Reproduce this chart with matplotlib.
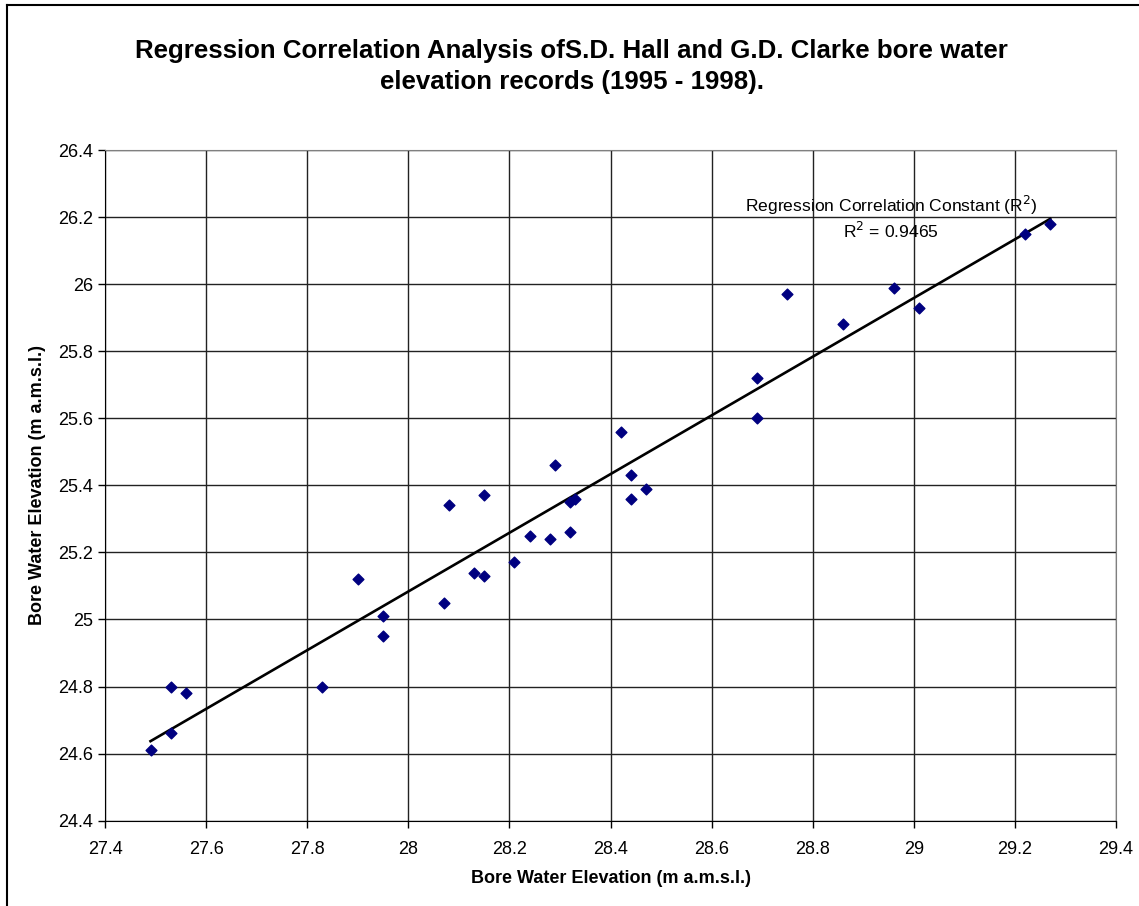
import matplotlib.pyplot as plt
import numpy as np
from matplotlib.lines import Line2D

plt.rcParams['font.family'] = ['Liberation Sans', 'DejaVu Sans']

# S.D. Hall bore (x) vs G.D. Clarke bore (y), m a.m.s.l.
hall = [27.49, 27.53, 27.56, 27.53, 27.83,
        27.90, 27.95, 27.95, 28.07, 28.08, 28.15, 28.13, 28.15, 28.21, 28.24,
        28.28, 28.29, 28.32, 28.33, 28.32, 28.42, 28.44, 28.44, 28.47,
        28.75, 28.96, 29.01, 28.86, 28.69, 28.69, 29.22, 29.27]
clarke = [24.61, 24.80, 24.78, 24.66, 24.80,
          25.12, 25.01, 24.95, 25.05, 25.34, 25.37, 25.14, 25.13, 25.17, 25.25,
          25.24, 25.46, 25.35, 25.36, 25.26, 25.56, 25.43, 25.36, 25.39,
          25.97, 25.99, 25.93, 25.88, 25.72, 25.60, 26.15, 26.18]

x_ticks = np.arange(27.4, 29.41, 0.2)
y_ticks = np.arange(24.4, 26.41, 0.2)

fig = plt.figure(figsize=(11.39, 9.06), dpi=100)
ax = fig.add_axes([0.0922, 0.0942, 0.8876, 0.7402])

ax.scatter(hall, clarke, marker='D', s=30, color='#000080', zorder=3)

# linear trend line
slope, intercept = np.polyfit(hall, clarke, 1)
xs = np.array([min(hall), max(hall)])
ax.plot(xs, slope * xs + intercept, color='black', lw=1.9, zorder=2)

ax.set_xlim(27.4, 29.4)
ax.set_ylim(24.4, 26.4)
ax.set_xticks(x_ticks)
ax.set_yticks(y_ticks)
ax.set_xticklabels([f'{v:g}' for v in np.round(x_ticks, 1)])
ax.set_yticklabels([f'{v:g}' for v in np.round(y_ticks, 1)])
ax.tick_params(direction='out', length=5, width=1, labelsize=13, color='black')
ax.tick_params(axis='x', pad=10)
ax.grid(True, color='#222222', lw=1)
ax.set_axisbelow(True)
for side in ['top', 'right']:
    ax.spines[side].set_color('#808080')
for side in ['left', 'bottom']:
    ax.spines[side].set_color('black')

ax.set_xlabel('Bore Water Elevation (m a.m.s.l.)', fontsize=13, fontweight='bold', labelpad=8)
ax.set_ylabel('Bore Water Elevation (m a.m.s.l.)', fontsize=13, fontweight='bold', labelpad=9)

ax.text(28.955, 26.235, 'Regression Correlation Constant (R$^2$)', fontsize=12.6,
        ha='center', va='center')
ax.text(28.955, 26.16, 'R$^2$ = 0.9465', fontsize=12.6, ha='center', va='center')

fig.text(0.502, 0.9266, 'Regression Correlation Analysis ofS.D. Hall and G.D. Clarke bore water\n'
         'elevation records (1995 - 1998).', fontsize=18.6, fontweight='bold',
         ha='center', va='center', linespacing=1.42)

# chart area border (only top and left visible)
fig.add_artist(Line2D([0.0065, 0.0065], [0, 0.9945], transform=fig.transFigure, color='black', lw=1.5))
fig.add_artist(Line2D([0.0065, 1.0], [0.9945, 0.9945], transform=fig.transFigure, color='black', lw=1.5))

fig.savefig('out.png', dpi=100)
